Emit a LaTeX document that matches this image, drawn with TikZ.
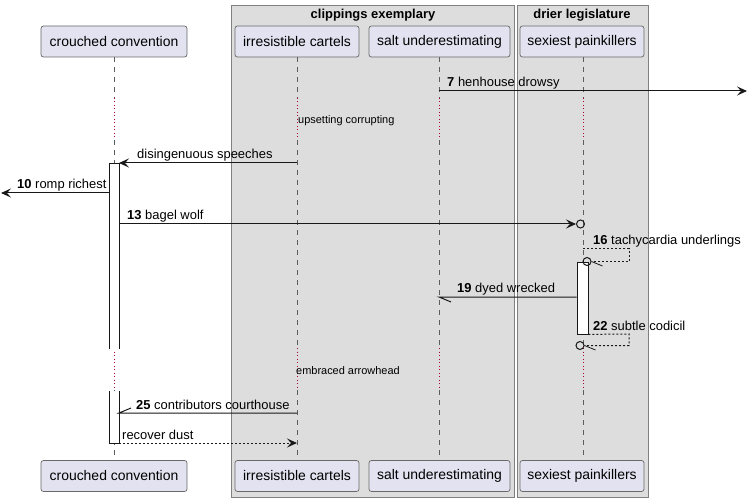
\documentclass[tikz,border=0pt]{standalone}
\usepackage{fontspec}
\setmainfont{Liberation Sans}
\usetikzlibrary{arrows.meta}
\definecolor{partfill}{HTML}{E2E2F0}
\definecolor{boxfill}{HTML}{DDDDDD}
\definecolor{delayred}{HTML}{A80036}
\definecolor{ink}{HTML}{181818}
\begin{document}
\begin{tikzpicture}[x=1bp,y=-1bp]
\tikzset{part/.style={draw=ink!65, fill=partfill, rounded corners=2.5bp, line width=0.7bp, minimum height=31bp, inner sep=0, font=\fontsize{14}{16}\selectfont},
grp/.style={draw=black!50, fill=boxfill, line width=1bp, inner sep=0},
grptitle/.style={anchor=base, inner sep=0, font=\fontsize{13}{15}\selectfont\bfseries},
life/.style={draw=ink!70, line width=0.6bp, dash pattern=on 5bp off 5bp},
delay/.style={draw=delayred, line width=1bp, dash pattern=on 1bp off 2.5bp},
act/.style={draw=ink, fill=white, line width=0.8bp},
msg/.style={draw=ink, line width=1bp, -{Stealth[length=10bp,width=9bp,inset=4bp]}},
ret/.style={msg, dash pattern=on 2bp off 2bp},
half/.style={draw=ink, line width=1bp},
halfret/.style={half, dash pattern=on 2bp off 2bp},
circ/.style={draw=ink, circle, minimum size=8bp, inner sep=0, line width=1bp},
lbl/.style={anchor=base west, inner sep=0, font=\fontsize{13}{15}\selectfont},
note/.style={anchor=west, inner sep=0, font=\fontsize{11}{13}\selectfont}}
\useasboundingbox (0,0) rectangle (749,502);
\node[grp, minimum width=283bp, minimum height=491bp] (G1) at (372.5,251.5) {};
\node[grp, minimum width=131bp, minimum height=491bp] (G2) at (582.5,251.5) {};
\node[grptitle] (T1) at (373,19) {clippings exemplary};
\node[grptitle] (T2) at (582,19) {drier legislature};
\coordinate (d1) at (0,98);
\coordinate (d2) at (0,140);
\coordinate (d3) at (0,348);
\coordinate (d4) at (0,390);
\coordinate (e1) at (0,460);
\foreach \p/\x in {P1/114,P2/297,P3/439,P4/583} {
\coordinate (\p) at (\x,57);
\draw[life] (\p) -- (\p |- d1);
\draw[delay] (\p |- d1) -- (\p |- d2);
\draw[life] (\p |- d2) -- (\p |- d3);
\draw[delay] (\p |- d3) -- (\p |- d4);
\draw[life] (\p |- d4) -- (\p |- e1);
}
\node[part, minimum width=146bp] (B1) at (114,41.5) {crouched convention};
\node[part, minimum width=124bp] (B2) at (297,41.5) {irresistible cartels};
\node[part, minimum width=141bp] (B3) at (439.5,41.5) {salt underestimating};
\node[part, minimum width=124bp] (B4) at (582,41.5) {sexiest painkillers};
\node[part, minimum width=146bp] (F1) at (114,476) {crouched convention};
\node[part, minimum width=124bp] (F2) at (297,476) {irresistible cartels};
\node[part, minimum width=141bp] (F3) at (439.5,476) {salt underestimating};
\node[part, minimum width=124bp] (F4) at (582,476) {sexiest painkillers};
\filldraw[act] (109,349) -- (109,163) -- (119,163) -- (119,349);
\filldraw[act] (109,391) -- (109,443) -- (119,443) -- (119,391);
\node[act, minimum width=11bp, minimum height=72bp, inner sep=0] (A4) at (582.5,298) {};
\coordinate (A1) at (119,0);
\coordinate (A0) at (109,0);
\coordinate (m7) at (0,91);
\coordinate (R7) at (747,91);
\draw[msg] (P3 |- m7) -- (R7);
\node[lbl] (L7) at (447,87) {\textbf{7} henhouse drowsy};
\node[note] (N1) at (298,121) {upsetting corrupting};
\coordinate (m8) at (0,163);
\draw[msg] (P2 |- m8) -- (A1 |- m8);
\node[lbl] (L8) at (137,159) {disingenuous speeches};
\coordinate (R10) at (1,193);
\draw[msg] (A0 |- R10) -- (R10);
\node[lbl] (L10) at (17,189) {\textbf{10} romp richest};
\node[circ] (C13) at (580.5,224) {};
\draw[msg] (A1 |- C13) -- (C13.west);
\node[lbl] (L13) at (127,220) {\textbf{13} bagel wolf};
\coordinate (s16) at (629,249);
\node[circ] (C16) at (587,261.5) {};
\draw[halfret] (P4 |- s16) -- (s16) -- (s16 |- C16.east) -- (C16.east);
\draw[half, line width=0.8bp] (C16.east) -- ++(11,4.5);
\node[lbl] (L16) at (593,245) {\textbf{16} tachycardia underlings};
\coordinate (m19) at (0,297);
\draw[half] (A4.west |- m19) -- (P3 |- m19) -- ++(12,5);
\node[lbl] (L19) at (457,293) {\textbf{19} dyed wrecked};
\coordinate (s22) at (629,334);
\node[circ] (C22) at (580,345.5) {};
\draw[halfret] (A4.south east) -- (s22) -- (s22 |- C22.east) -- (C22.east);
\draw[half, line width=0.8bp] (C22.east) -- ++(11,4.5);
\node[lbl] (L22) at (593,330) {\textbf{22} subtle codicil};
\node[note] (N2) at (296,371) {embraced arrowhead};
\coordinate (m25) at (0,413);
\draw[half] (P2 |- m25) -- (A1 |- m25) -- ++(12,-5);
\node[lbl] (L25) at (136,409) {\textbf{25} contributors courthouse};
\coordinate (m26) at (0,443);
\draw[ret] (A1 |- m26) -- (P2 |- m26);
\node[lbl] (L26) at (122,439) {recover dust};
\end{tikzpicture}
\end{document}
